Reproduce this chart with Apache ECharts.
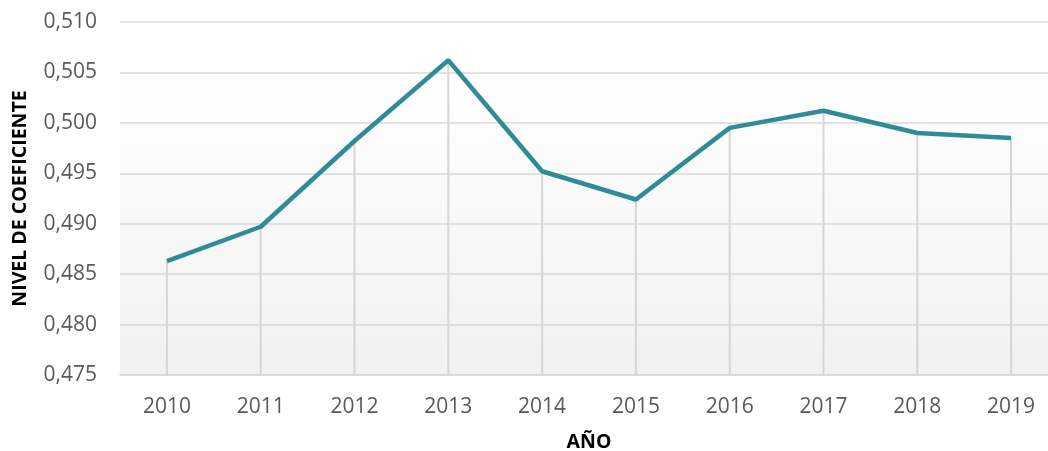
<!DOCTYPE html>
<html>
<head>
<meta charset="utf-8">
<script src="https://cdn.jsdelivr.net/npm/echarts@6/dist/echarts.min.js"></script>
<style>
  html, body { margin: 0; padding: 0; background: #fff; }
  #main { width: 1048px; height: 451px; }
</style>
</head>
<body>
<div id="main"></div>
<script>
const years = ['2010', '2011', '2012', '2013', '2014', '2015', '2016', '2017', '2018', '2019']
const coeficiente = [0.4863, 0.4897, 0.4982, 0.5062, 0.4952, 0.4924, 0.4995, 0.5012, 0.4990, 0.4985]

const chart = echarts.init(document.getElementById('main'))
const font = '"Open Sans", "Liberation Sans", sans-serif'

const option = {
  animation: false,
  grid: {
    left: 120,
    top: 22,
    width: 938,
    bottom: 76,
    containLabel: false,
    outerBoundsMode: 'none',
    show: true,
    borderWidth: 0,
    backgroundColor: {
      type: 'linear', x: 0, y: 0, x2: 0, y2: 1,
      colorStops: [
        { offset: 0, color: '#ffffff' },
        { offset: 0.15, color: '#ffffff' },
        { offset: 1, color: '#f1f1f1' }
      ]
    }
  },
  xAxis: {
    type: 'category',
    data: years,
    boundaryGap: true,
    name: 'AÑO',
    nameLocation: 'middle',
    nameGap: 57,
    nameTextStyle: { fontFamily: font, fontWeight: 'bold', fontSize: 19.5, color: '#000' },
    axisLine: { lineStyle: { color: '#d9d9d9', width: 1.5 } },
    axisTick: { show: false },
    axisLabel: { fontFamily: font, fontSize: 21, color: '#595959', margin: 22 },
    splitLine: { show: false }
  },
  yAxis: {
    type: 'value',
    min: 0.475,
    max: 0.510,
    interval: 0.005,
    name: 'NIVEL DE COEFICIENTE',
    nameLocation: 'middle',
    nameGap: 90,
    nameTextStyle: { fontFamily: font, fontWeight: 'bold', fontSize: 19.5, color: '#000' },
    axisLine: { show: false },
    axisTick: { show: false },
    axisLabel: {
      fontFamily: font, fontSize: 21, color: '#595959', margin: 23,
      formatter: v => v.toFixed(3).replace('.', ',')
    },
    splitLine: { lineStyle: { color: '#d9d9d9', width: 1.5 } }
  },
  series: [
    {
      // líneas verticales hasta el eje
      type: 'bar',
      data: coeficiente,
      barWidth: 2,
      itemStyle: { color: '#d6d6d6' },
      silent: true,
      z: 1
    },
    {
      type: 'line',
      data: coeficiente,
      symbol: 'none',
      lineStyle: { color: '#2f8c97', width: 4.5 },
      z: 3
    }
  ]
}
chart.setOption(option)
</script>
</body>
</html>
